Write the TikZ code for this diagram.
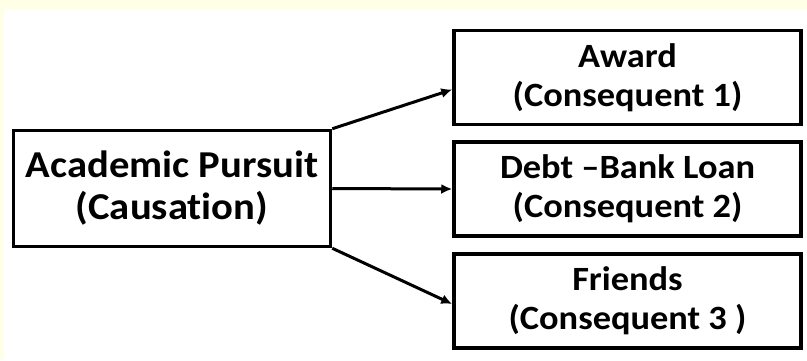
\documentclass[tikz,border=0pt]{standalone}
\usepackage{fontspec}
\setmainfont{Carlito}[Ligatures=NoCommon, FakeStretch=1.07]
\usetikzlibrary{arrows.meta, positioning}
\definecolor{creambg}{RGB}{255, 255, 232}
\tikzset{
  causebox/.style={rectangle, draw=black, line width=3.5pt, fill=white, minimum width=317pt, minimum height=116pt, align=center, inner sep=0pt, font=\fontsize{38}{42}\selectfont\bfseries},
  effectbox/.style={rectangle, draw=black, line width=3.5pt, fill=white, minimum width=347pt, minimum height=94pt, align=center, inner sep=0pt, font=\fontsize{34}{39}\selectfont\bfseries},
  leadto/.style={-{Latex[length=11pt, width=10pt]}, line width=3pt}
}
\begin{document}
\begin{tikzpicture}[x=1pt, y=-1pt]
    % page background
    \fill[creambg] (0,0) rectangle (807,360);
    \fill[white] (4,9) rectangle (807,360);
    \useasboundingbox (0,0) rectangle (807,360);
    % cause on the left
    \node[causebox] (pursuit) at (172,188.5) {Academic Pursuit\\(Causation)};
    % consequences on the right
    \node[effectbox] (award) at (627.5,77.5) {Award\\(Consequent 1)};
    \node[effectbox, below=14pt of award] (debt) {Debt --Bank Loan\\(Consequent 2)};
    \node[effectbox, below=14.5pt of debt] (friends) {Friends\\(Consequent 3 )};
    % arrows
    \draw[leadto] (pursuit.north east) -- ([yshift=-12pt]award.west);
    \draw[leadto] (pursuit.east) -- (debt.west);
    \draw[leadto] (pursuit.south east) -- ([yshift=-3pt]friends.west);
\end{tikzpicture}
\end{document}
